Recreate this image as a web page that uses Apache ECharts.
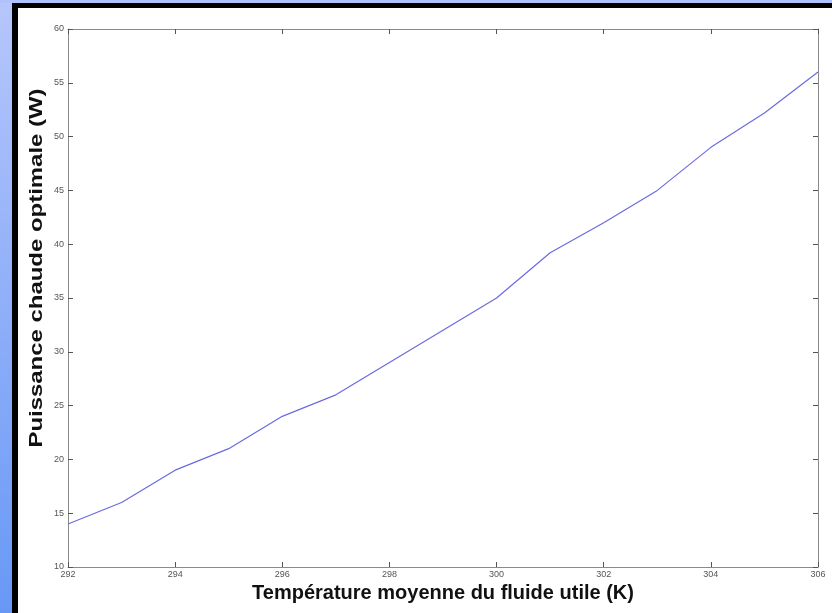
<!DOCTYPE html>
<html>
<head>
<meta charset="utf-8">
<script src="https://cdn.jsdelivr.net/npm/echarts@6/dist/echarts.min.js"></script>
<style>
html,body{margin:0;padding:0;background:#fff;}
#c{width:832px;height:613px;}
</style>
</head>
<body>
<div id="c"></div>
<script>
var temperatures = [292, 293, 294, 295, 296, 297, 298, 299, 300, 301, 302, 303, 304, 305, 306];
var puissance = [14, 16, 19, 21, 24, 26, 29, 32, 35, 39.2, 42, 45, 49, 52.2, 56];
var xTitle = 'Température moyenne du fluide utile (K)';
var yTitle = 'Puissance chaude optimale (W)';

var chart = echarts.init(document.getElementById('c'));
var axisLine = {show: true, lineStyle: {color: '#8a8a8a', width: 1}};
var tick = {show: true, inside: true, length: 5, lineStyle: {color: '#555', width: 1}};
var lbl = {color: '#555', fontSize: 9, fontFamily: 'Liberation Sans, Arial, sans-serif'};
chart.setOption({
  animation: false,
  backgroundColor: '#ffffff',
  grid: {left: 68, top: 29, right: 14, bottom: 46, show: false},
  graphic: [
    {type: 'rect', left: 0, top: 0, shape: {width: 12, height: 613}, silent: true,
     style: {fill: new echarts.graphic.LinearGradient(0, 0, 0, 1, [{offset: 0, color: '#b6c6fb'}, {offset: 1, color: '#6898f6'}])}},
    {type: 'rect', left: 0, top: 0, shape: {width: 832, height: 3}, silent: true, style: {fill: '#b0c2fb'}},
    {type: 'rect', left: 12, top: 3, shape: {width: 6, height: 610}, silent: true, style: {fill: '#000'}},
    {type: 'rect', left: 12, top: 3, shape: {width: 820, height: 5}, silent: true, style: {fill: '#000'}},
    {type: 'text', x: 37, y: 268, rotation: Math.PI / 2, scaleX: 1.26, silent: true,
     style: {text: yTitle, fill: '#111', font: 'bold 19px "Liberation Sans", Arial, sans-serif', align: 'center', verticalAlign: 'middle'}}
  ],
  xAxis: [
    {type: 'value', min: 292, max: 306, interval: 2, position: 'bottom',
     name: xTitle, nameLocation: 'middle', nameGap: 14,
     nameTextStyle: {color: '#111', fontSize: 20, fontWeight: 'bold', fontFamily: 'Liberation Sans, Arial, sans-serif'},
     axisLine: axisLine, axisTick: tick, splitLine: {show: false},
     axisLabel: Object.assign({margin: 3}, lbl)},
    {type: 'value', min: 292, max: 306, interval: 2, position: 'top',
     axisLine: axisLine, axisTick: tick, splitLine: {show: false}, axisLabel: {show: false}}
  ],
  yAxis: [
    {type: 'value', min: 10, max: 60, interval: 5, position: 'left',
     axisLine: axisLine, axisTick: tick, splitLine: {show: false},
     axisLabel: Object.assign({margin: 4}, lbl)},
    {type: 'value', min: 10, max: 60, interval: 5, position: 'right',
     axisLine: axisLine, axisTick: tick, splitLine: {show: false}, axisLabel: {show: false}}
  ],
  series: [{
    type: 'line',
    data: temperatures.map(function (t, i) { return [t, puissance[i]]; }),
    showSymbol: false,
    lineStyle: {color: '#6b6be0', width: 1.2},
    xAxisIndex: 0, yAxisIndex: 0
  }]
});
</script>
</body>
</html>
